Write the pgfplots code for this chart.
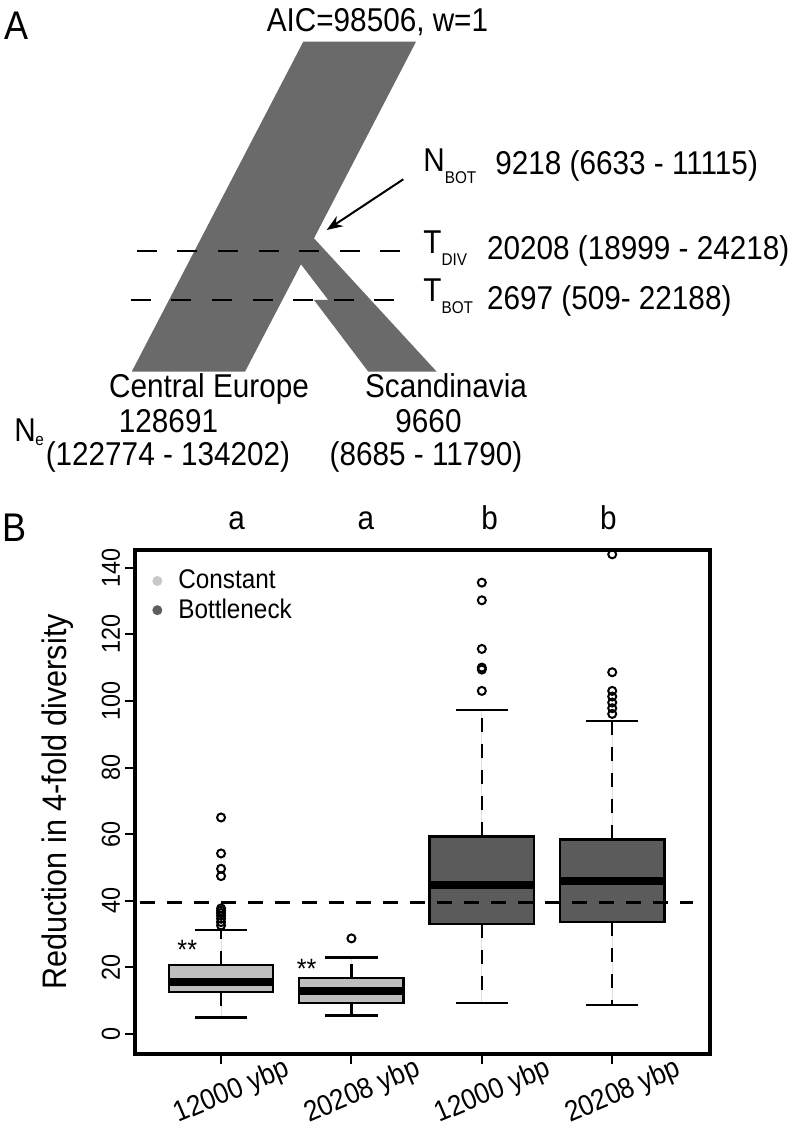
\documentclass[border=0pt]{standalone}
\usepackage{pgfplots}
\pgfplotsset{compat=1.18}
\usepgfplotslibrary{statistics}
\usetikzlibrary{arrows.meta}
\usepackage{fontspec}
\setmainfont{Liberation Sans}[FakeStretch=0.9]
\definecolor{bandgray}{HTML}{6A6A6A}
\definecolor{constgray}{HTML}{BEBEBE}
\definecolor{bottgray}{HTML}{5B5B5B}
\definecolor{legconst}{HTML}{C8C8C8}
\definecolor{legbott}{HTML}{5E5E5E}
\newcommand{\fs}[1]{\fontsize{#1}{#1}\selectfont}
\pgfplotsset{
  boxplot/draw/lower whisker/.code={%
    \draw[/pgfplots/boxplot/every whisker/.try, dash pattern=on 7pt off 6pt]
      (boxplot cs:\pgfplotsboxplotvalue{lower quartile}) -- (boxplot cs:\pgfplotsboxplotvalue{lower whisker});
    \draw[/pgfplots/boxplot/every whisker/.try]
      (boxplot whisker cs:\pgfplotsboxplotvalue{lower whisker},0) -- (boxplot whisker cs:\pgfplotsboxplotvalue{lower whisker},1);
  },
  boxplot/draw/upper whisker/.code={%
    \draw[/pgfplots/boxplot/every whisker/.try, dash pattern=on 7pt off 6pt]
      (boxplot cs:\pgfplotsboxplotvalue{upper quartile}) -- (boxplot cs:\pgfplotsboxplotvalue{upper whisker});
    \draw[/pgfplots/boxplot/every whisker/.try]
      (boxplot whisker cs:\pgfplotsboxplotvalue{upper whisker},0) -- (boxplot whisker cs:\pgfplotsboxplotvalue{upper whisker},1);
  },
  rbox/.style={draw=black, line width=1.2pt, mark=o, mark size=2pt,
    mark options={solid, draw=black, fill=none, line width=1pt},
    boxplot/every whisker/.style={solid, black, line width=1.2pt},
    boxplot/every median/.style={solid, black, line width=4pt},
    boxplot/every box/.style={solid, draw=black, line width=1.2pt}},
}
\begin{document}
\begin{tikzpicture}
\useasboundingbox (0pt,0pt) rectangle (398pt,565pt);
% ---------------- Panel A ----------------
\begin{axis}[
  at={(0pt,325pt)}, anchor=south west,
  width=398pt, height=240pt, scale only axis,
  xmin=0, xmax=796, ymin=0, ymax=480, y dir=reverse,
  axis lines=none, clip=false,
]
\addplot[fill=bandgray, draw=none] coordinates {
  (303.3,41.7) (416,41.7) (314,238.3) (436.7,371.7) (368.3,371.7)
  (314,300) (328.3,300) (301,264.3) (245,371.7) (131.7,371.7)} -- cycle;
\addplot[black, line width=1pt, dash pattern=on 10pt off 10.3pt] coordinates {(136.7,250.7) (400,250.7)};
\addplot[black, line width=1pt, dash pattern=on 10pt off 10.3pt] coordinates {(130.7,300) (394,300)};
\addplot[black, line width=1pt, -{Stealth[length=8pt,width=6pt]}] coordinates {(403.3,179.3) (326.7,230)};
\node[anchor=base west, inner sep=0, font=\fs{20}] at (axis cs:4,40) {A};
\node[anchor=base, inner sep=0, font=\fs{16.5}] at (axis cs:377.5,32) {AIC=98506, w=1};
\node[anchor=base west, inner sep=0, font=\fs{16.5}] at (axis cs:423,172) {N\raisebox{-6pt}{\fs{8.5}BOT}};
\node[anchor=base west, inner sep=0, font=\fs{16.5}] at (axis cs:495,175) {9218 (6633 - 11115)};
\node[anchor=base west, inner sep=0, font=\fs{16.5}] at (axis cs:423,253.3) {T\raisebox{-6pt}{\fs{8.5}DIV}};
\node[anchor=base west, inner sep=0, font=\fs{16.5}] at (axis cs:486.7,259.5) {20208 (18999 - 24218)};
\node[anchor=base west, inner sep=0, font=\fs{16.5}] at (axis cs:423,301.7) {T\raisebox{-6pt}{\fs{8.5}BOT}};
\node[anchor=base west, inner sep=0, font=\fs{16.5}] at (axis cs:486.7,310) {2697 (509- 22188)};
\node[anchor=base, inner sep=0, font=\fs{16.5}] at (axis cs:209,398) {Central Europe};
\node[anchor=base, inner sep=0, font=\fs{16.5}] at (axis cs:168.5,433) {128691};
\node[anchor=base, inner sep=0, font=\fs{16.5}] at (axis cs:168,466) {(122774 - 134202)};
\node[anchor=base, inner sep=0, font=\fs{16.5}] at (axis cs:446,398) {Scandinavia};
\node[anchor=base, inner sep=0, font=\fs{16.5}] at (axis cs:428.5,433) {9660};
\node[anchor=base, inner sep=0, font=\fs{16.5}] at (axis cs:426,466) {(8685 - 11790)};
\node[anchor=base west, inner sep=0, font=\fs{16.5}] at (axis cs:14,442) {N};
\node[anchor=base west, inner sep=0, font=\fs{8.5}] at (axis cs:35,446) {e};
\node[anchor=base west, inner sep=0, font=\fs{20}] at (axis cs:2,541) {B};
\end{axis}
% ---------------- Panel B ----------------
\begin{axis}[
  at={(67.5pt,38pt)}, anchor=south west,
  width=287.5pt, height=252pt, scale only axis,
  xmin=0.34, xmax=4.75, ymin=-6, ymax=145.3,
  xtick={1,2,3,4}, xticklabels={12000 ybp,20208 ybp,12000 ybp,20208 ybp},
  ytick={0,20,...,140},
  /pgf/number format/assume math mode=true,
  tick align=outside, tick pos=left,
  major tick length=5pt,
  tick style={black, line width=1pt},
  axis line style={line width=1.6pt},
  yticklabel style={anchor=center, xshift=-7pt, rotate=90, font=\fs{13}},
  xticklabel style={anchor=center, xshift=5.5pt, yshift=-14pt, rotate=23, font=\fs{14.5}},
  ylabel={Reduction in 4-fold diversity},
  every axis y label/.style={at={(axis description cs:-0.134,0.5)}, rotate=90, anchor=center, font=\fs{17}},
  boxplot/draw direction=y,
  clip=false,
  legend style={at={(axis cs:0.47,140.6)}, anchor=north west, draw=none, fill=none,
    inner sep=0pt, row sep=-0.5pt, font=\fs{13.5},
    /tikz/every odd column/.append style={column sep=6pt}},
  legend cell align=left,
  legend image code/.code={\fill[#1] (0pt,0pt) circle (2.5pt);},
]
\addlegendimage{fill=legconst, draw=none}
\addlegendentry{Constant}
\addlegendimage{fill=legbott, draw=none}
\addlegendentry{Bottleneck}

\addplot[rbox, fill=constgray, boxplot prepared={draw position=1,
  lower whisker=5.0, lower quartile=12.7, median=15.7, upper quartile=20.7, upper whisker=31.3,
  box extend=0.8, whisker extend=0.4}]
  table[row sep=\\, y index=0] {v\\ 65.0\\ 54.2\\ 49.6\\ 47.4\\ 37.7\\ 37.0\\ 36.3\\ 35.5\\ 34.6\\ 33.6\\ 32.6\\};
\addplot[rbox, fill=constgray, boxplot prepared={draw position=2,
  lower whisker=5.6, lower quartile=9.4, median=13.0, upper quartile=16.8, upper whisker=23.0,
  box extend=0.8, whisker extend=0.4}]
  table[row sep=\\, y index=0] {v\\ 28.7\\};
\addplot[rbox, fill=bottgray, boxplot prepared={draw position=3,
  lower whisker=9.4, lower quartile=33.0, median=44.6, upper quartile=59.3, upper whisker=97.2,
  box extend=0.8, whisker extend=0.4}]
  table[row sep=\\, y index=0] {v\\ 135.5\\ 130.2\\ 115.6\\ 110.0\\ 109.4\\ 103.0\\};
\addplot[rbox, fill=bottgray, boxplot prepared={draw position=4,
  lower whisker=8.7, lower quartile=33.6, median=45.8, upper quartile=58.4, upper whisker=93.9,
  box extend=0.8, whisker extend=0.4}]
  table[row sep=\\, y index=0] {v\\ 144.0\\ 108.6\\ 103.0\\ 101.3\\ 99.5\\ 97.8\\ 96.1\\};

\addplot[black, line width=1.25pt, dash pattern=on 7.5pt off 6pt] coordinates {(0.38,39.5) (4.62,39.5)};

\node[anchor=base, inner sep=0, font=\fs{14}] at (axis cs:0.741,22.4) {**};
\node[anchor=base, inner sep=0, font=\fs{14}] at (axis cs:1.656,16.8) {**};
\node[anchor=base, inner sep=0, font=\fs{16.5}] at (axis cs:1.12,151.5) {a};
\node[anchor=base, inner sep=0, font=\fs{16.5}] at (axis cs:2.11,151.5) {a};
\node[anchor=base, inner sep=0, font=\fs{16.5}] at (axis cs:3.06,151.5) {b};
\node[anchor=base, inner sep=0, font=\fs{16.5}] at (axis cs:3.97,151.5) {b};
\end{axis}
\end{tikzpicture}
\end{document}
